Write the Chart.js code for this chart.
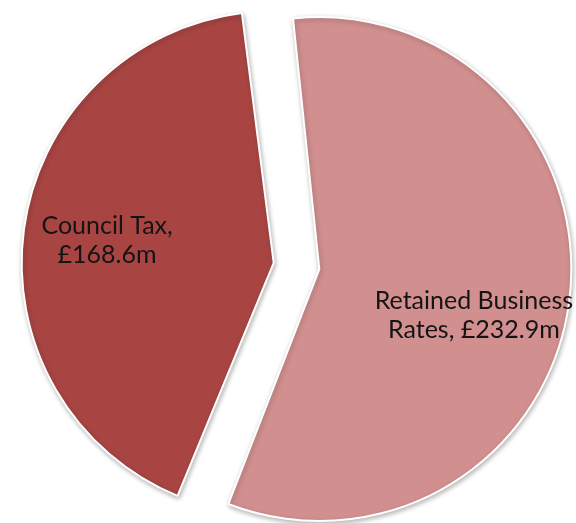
<!DOCTYPE html>
<html lang="en">
<head>
    <meta charset="UTF-8">
    <title>Council Tax and Retained Business Rates</title>
    <script src="https://cdn.jsdelivr.net/npm/chart.js"></script>
    <style>
        html, body { margin: 0; padding: 0; background: #fff; }
        #wrap { width: 576px; height: 523px; }
    </style>
</head>
<body>

    <div id="wrap">
        <canvas id="myChart"></canvas>
    </div>

    <script>
        // data
        const labels = ['Council Tax', 'Retained Business Rates'];
        const values = [168.6, 232.9];
        const labelLines = [
            ['Council Tax,', '£168.6m'],
            ['Retained Business', 'Rates, £232.9m']
        ];

        const colours = ['#A84543', '#D1908F'];
        const sliceRadius = 252;   // drawn radius of both slices
        const explode = 92;        // chart.js shifts by offset / 4

        // chart.js grows an offset arc by offset/4 * (1 - sin(circumference));
        // undo that so both slices come out the same size
        function radiusGrowth(arc) {
            const circ = arc.endAngle - arc.startAngle;
            return (arc.options.offset || 0) / 4 * (1 - Math.sin(Math.min(Math.PI, circ)));
        }
        const evenRadius = {
            id: 'evenRadius',
            afterDatasetsUpdate(chart) {
                chart.getDatasetMeta(0).data.forEach(arc => {
                    arc.outerRadius = sliceRadius - radiusGrowth(arc);
                });
            }
        };

        // soft grey shadow round the slices
        const shadowPlugin = {
            id: 'sliceShadow',
            beforeDatasetsDraw(chart) {
                const ctx = chart.ctx;
                ctx.save();
                ctx.shadowColor = 'rgba(0,0,0,0.28)';
                ctx.shadowBlur = 5;
                ctx.shadowOffsetX = 1;
                ctx.shadowOffsetY = 2;
            },
            afterDatasetsDraw(chart) {
                chart.ctx.restore();
            }
        };

        // text inside each slice, placed from the arc geometry
        const labelTweak = [
            { r: 0.667, da: 0 },
            { r: 0.64, da: 9 * Math.PI / 180 }
        ];
        const sliceLabels = {
            id: 'sliceLabels',
            afterDatasetsDraw(chart) {
                const ctx = chart.ctx;
                const arcs = chart.getDatasetMeta(0).data;
                ctx.save();
                ctx.font = '25px Lato';
                ctx.fillStyle = '#141414';
                ctx.textAlign = 'center';
                ctx.textBaseline = 'middle';
                arcs.forEach((arc, i) => {
                    const mid = (arc.startAngle + arc.endAngle) / 2;
                    const shift = (arc.options.offset || 0) / 4;
                    const ox = arc.x + Math.cos(mid) * shift;
                    const oy = arc.y + Math.sin(mid) * shift;
                    const a = mid + labelTweak[i].da;
                    const r = (arc.outerRadius + radiusGrowth(arc)) * labelTweak[i].r;
                    const cx = ox + Math.cos(a) * r;
                    const cy = oy + Math.sin(a) * r;
                    const lines = labelLines[i];
                    const lh = 29;
                    lines.forEach((t, j) => {
                        ctx.fillText(t, cx, cy + (j - (lines.length - 1) / 2) * lh);
                    });
                });
                ctx.restore();
            }
        };

        const ctx = document.getElementById('myChart').getContext('2d');
        new Chart(ctx, {
            type: 'pie',
            data: {
                labels: labels,
                datasets: [{
                    data: values,
                    backgroundColor: colours,
                    borderColor: '#ffffff',
                    borderWidth: 2,
                    offset: explode
                }]
            },
            options: {
                responsive: true,
                maintainAspectRatio: false,
                animation: false,
                rotation: 202,
                layout: { padding: { left: 17, right: 0, top: 9, bottom: 0 } },
                plugins: {
                    legend: { display: false },
                    tooltip: { enabled: false }
                }
            },
            plugins: [evenRadius, shadowPlugin, sliceLabels]
        });
    </script>

</body>
</html>
